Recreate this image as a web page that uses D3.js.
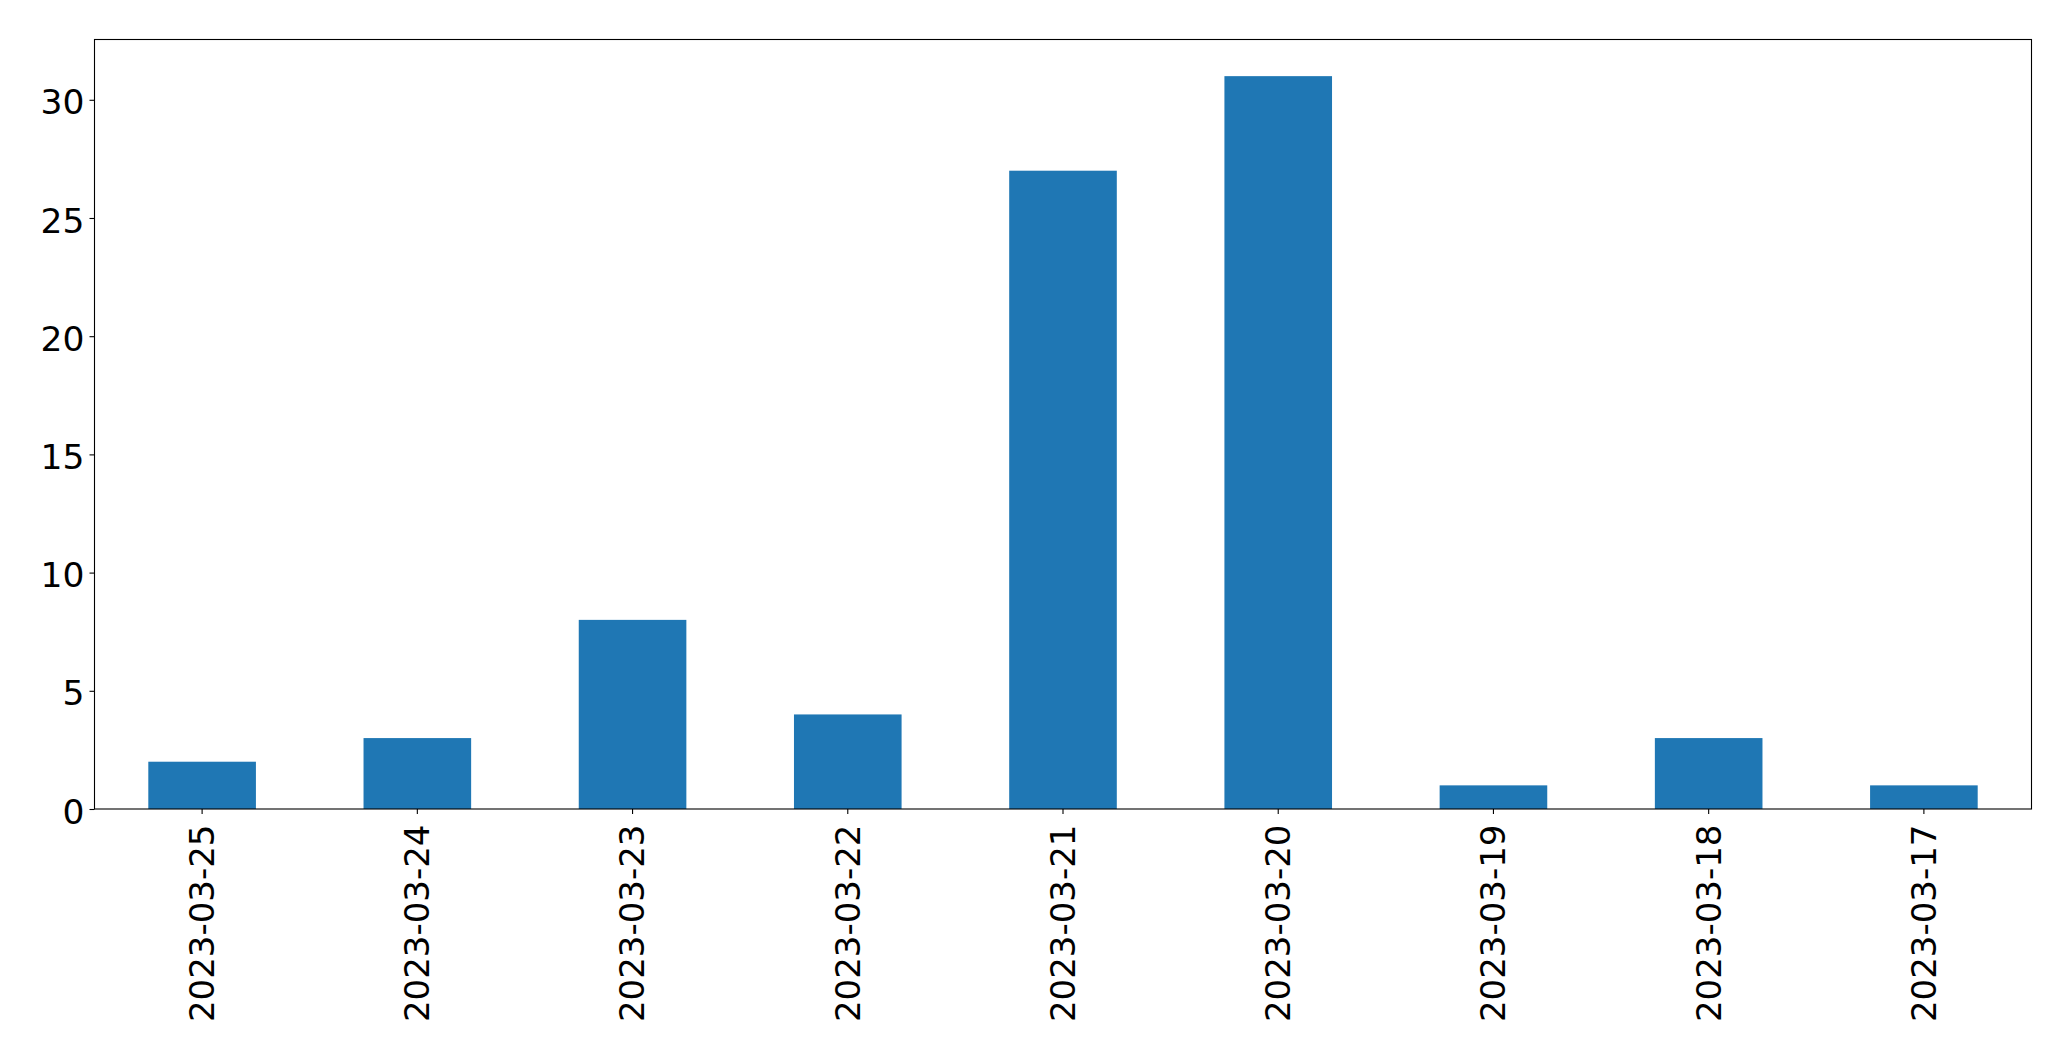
<!DOCTYPE html>
<html>
<head>
<meta charset="utf-8">
<script src="https://cdn.jsdelivr.net/npm/d3@7"></script>
<style>
html, body { margin: 0; padding: 0; background: #fff; }
svg { display: block; }
</style>
</head>
<body>
<script>
const categories = ["2023-03-25","2023-03-24","2023-03-23","2023-03-22","2023-03-21","2023-03-20","2023-03-19","2023-03-18","2023-03-17"];
const values = [2, 3, 8, 4, 27, 31, 1, 3, 1];
const yTicks = [0, 5, 10, 15, 20, 25, 30];

const W = 2071, H = 1061;
const mLeft = 94.5, mRight = 2031.5, mTop = 39.5, mBottom = 809;
const yFontSize = 34.5;
const xFontSize = 34;
const font = "'DejaVu Sans', sans-serif";

const svg = d3.select("body").append("svg").attr("width", W).attr("height", H);

const x = d3.scaleBand().domain(categories).range([mLeft, mRight]).paddingInner(0.5).paddingOuter(0.25);
const y = d3.scaleLinear().domain([0, d3.max(values) * 1.05]).range([mBottom, mTop]);

svg.append("g").selectAll("rect").data(values).join("rect")
  .attr("x", (d, i) => x(categories[i]))
  .attr("width", x.bandwidth())
  .attr("y", d => y(d))
  .attr("height", d => y(0) - y(d))
  .attr("fill", "#1f77b4");

// Y axis
const yAxis = d3.axisLeft(y).tickValues(yTicks).tickSize(5).tickPadding(5).tickFormat(d3.format("d"));
const gy = svg.append("g").attr("transform", `translate(${mLeft},0)`).call(yAxis);
gy.select(".domain").remove();
gy.selectAll(".tick line").attr("stroke", "#000").attr("stroke-width", 1.1);
gy.selectAll(".tick text").attr("font-family", font).attr("font-size", yFontSize).attr("fill", "#000").attr("dy", "0.41em");

// X axis
const xAxis = d3.axisBottom(x).tickSize(5).tickPadding(5);
const gx = svg.append("g").attr("transform", `translate(0,${mBottom})`).call(xAxis);
gx.select(".domain").remove();
gx.selectAll(".tick line").attr("stroke", "#000").attr("stroke-width", 1.1);
gx.selectAll(".tick text")
  .attr("font-family", font).attr("font-size", xFontSize).attr("fill", "#000")
  .attr("text-anchor", "end")
  .attr("transform", "translate(0,15.5) rotate(-90)")
  .attr("x", 0).attr("y", 0).attr("dy", "0.35em");

// Frame
svg.append("rect").attr("x", mLeft).attr("y", mTop).attr("width", mRight - mLeft).attr("height", mBottom - mTop)
  .attr("fill", "none").attr("stroke", "#000").attr("stroke-width", 1.1);
</script>
</body>
</html>
